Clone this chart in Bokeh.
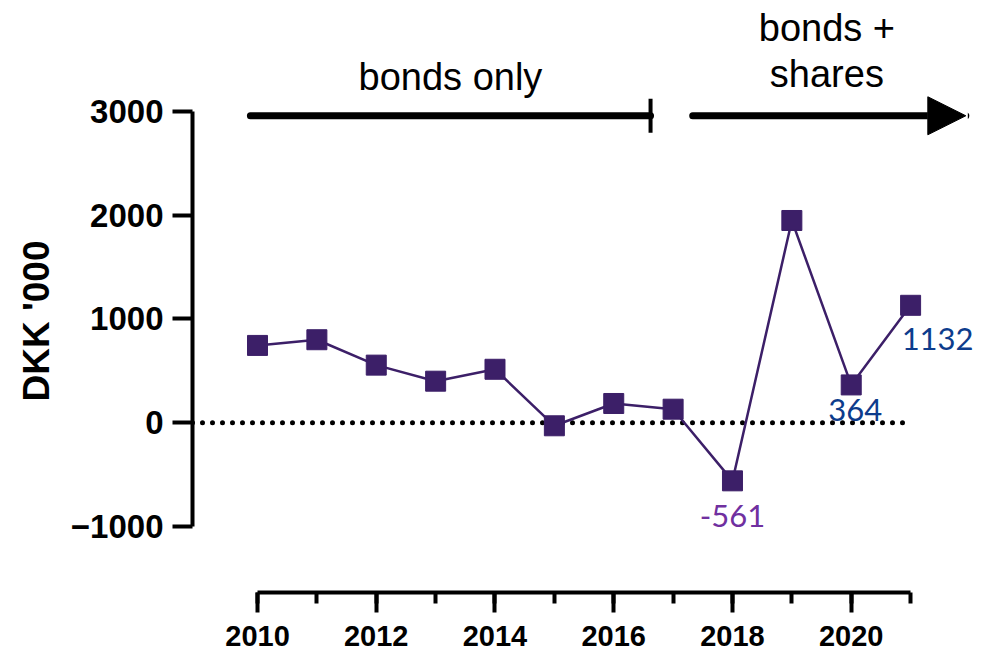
from bokeh.plotting import figure
from bokeh.models import (Range1d, FixedTicker, SingleIntervalTicker, Arrow, TeeHead,
                          NormalHead, Label, ColumnDataSource, Title)
from bokeh.core.properties import value
from bokeh.embed import file_html
from bokeh.resources import INLINE

# ---- data ----
years = [2010, 2011, 2012, 2013, 2014, 2015, 2016, 2017, 2018, 2019, 2020, 2021]
values = [745, 800, 555, 400, 515, -30, 185, 130, -561, 1950, 364, 1132]
label_years = [2018, 2020, 2021]
label_values = [-561, 364, 1132]
label_texts = ["-561", "364", "1132"]
label_colors = ["#7030A0", "#0D3C8C", "#0D3C8C"]
y_ticks = [-1000, 0, 1000, 2000, 3000]
y_title = "DKK '000"
period1_text = "bonds only"
period2_text = ["bonds +", "shares"]

X_START, X_END = 2008.905, 2022.43
Y_START, Y_END = -1638, 4014
LINE_COLOR = "#3C1F68"

p = figure(width=995, height=657, output_backend="svg", toolbar_location=None,
           x_range=Range1d(X_START, X_END), y_range=Range1d(Y_START, Y_END),
           min_border_left=192, min_border_right=0, min_border_top=6, min_border_bottom=65)
p.outline_line_color = None
p.grid.visible = False
p.background_fill_color = "white"

# axes
xa = p.xaxis[0]
xa.bounds = (2010, 2021)
xa.ticker = SingleIntervalTicker(interval=2, num_minor_ticks=2)
xa.axis_line_width = 4
xa.major_tick_line_width = 4
xa.minor_tick_line_width = 4
xa.major_tick_in = 0
xa.major_tick_out = 20
xa.minor_tick_in = 0
xa.minor_tick_out = 11
xa.major_label_standoff = 13
xa.major_label_text_font = "Liberation Sans"
xa.major_label_text_font_style = "bold"
xa.major_label_text_font_size = "29px"
xa.major_label_text_color = "black"

ya = p.yaxis[0]
ya.bounds = (-1000, 3000)
ya.ticker = FixedTicker(ticks=y_ticks, minor_ticks=[])
ya.axis_line_width = 4
ya.major_tick_line_width = 4
ya.major_tick_in = 0
ya.major_tick_out = 20
ya.minor_tick_line_color = None
ya.major_label_standoff = 9
ya.major_label_text_font = "Liberation Sans"
ya.major_label_text_font_style = "bold"
ya.major_label_text_font_size = "33px"
ya.major_label_text_color = "black"

# y axis title
p.add_layout(Title(text=y_title, align="left", offset=191, standoff=22,
                   text_font="Liberation Sans", text_font_style="bold",
                   text_font_size="37px", text_color="black"), "left")

# zero dotted line
zero_x = [X_START, 2021]
zero_y = [0, 0]
p.line(zero_x, zero_y, line_color="black", line_width=5, line_dash="0 10", line_cap="round")

# data
src = ColumnDataSource(dict(x=years, y=values))
p.line("x", "y", source=src, line_color=LINE_COLOR, line_width=2.5)
p.scatter("x", "y", source=src, marker="square", size=20, fill_color=LINE_COLOR,
          line_color=LINE_COLOR)

# value labels
lsrc = ColumnDataSource(dict(x=label_years, y=label_values, t=label_texts, c=label_colors,
                             xo=[0, 4, 27], yo=[35, 25, 34]))
p.text("x", "y", text="t", source=lsrc, text_color="c", x_offset="xo", y_offset="yo",
       text_align="center", text_baseline="middle", text_font=value("Lato"),
       text_font_size="31px")

# period arrows
ARROW_Y = 2960
p.add_layout(Arrow(x_start=2009.88, y_start=ARROW_Y, x_end=2016.62, y_end=ARROW_Y,
                   line_width=7, line_color="black", line_cap="round",
                   end=TeeHead(size=34, line_width=4, line_color="black")))
p.add_layout(Arrow(x_start=2017.33, y_start=ARROW_Y, x_end=2021.93, y_end=ARROW_Y,
                   line_width=7, line_color="black", line_cap="round",
                   end=NormalHead(size=38, fill_color="black", line_color="black", line_width=1)))

p.add_layout(Label(x=2013.25, y=3338, text=period1_text, text_align="center",
                   text_baseline="middle", text_font="Liberation Sans",
                   text_font_size="38px", text_color="black"))
p.add_layout(Label(x=2019.59, y=3802, text=period2_text[0], text_align="center",
                   text_baseline="middle", text_font="Liberation Sans",
                   text_font_size="38px", text_color="black"))
p.add_layout(Label(x=2019.59, y=3367, text=period2_text[1], text_align="center",
                   text_baseline="middle", text_font="Liberation Sans",
                   text_font_size="38px", text_color="black"))

open("out.html", "w").write(file_html(p, INLINE))
